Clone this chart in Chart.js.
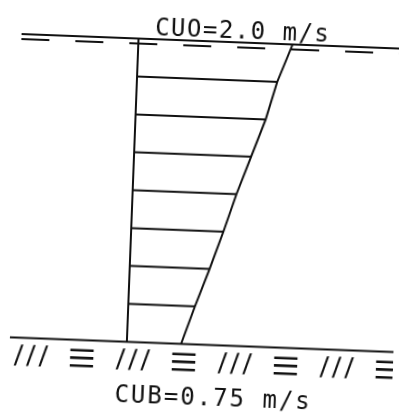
<!DOCTYPE html>
<html><head><meta charset="utf-8">
<script src="https://cdn.jsdelivr.net/npm/chart.js@4.4.0/dist/chart.umd.min.js"></script>
<style>
html,body{margin:0;padding:0;background:#fff;overflow:hidden}
#wrap{width:399px;height:419px;position:relative;overflow:hidden;background:#fff}
#c{position:absolute;left:0;top:0;transform:rotate(2.2deg);transform-origin:50% 50%}
</style></head><body>
<div id="wrap"><canvas id="c" width="399" height="419"></canvas></div>
<script>
// depth levels (0 = bed, 8 = surface) and velocity read at each level (m/s)
const levels = [0, 1, 2, 3, 4, 5, 6, 7, 8];
const velocities = [0.70, 0.86, 1.03, 1.19, 1.34, 1.51, 1.68, 1.81, 1.99];
const surfaceLabel = 'CUO=2.0 m/s';
const bedLabel = 'CUB=0.75 m/s';
const groundSymbols = ['///', '≡', '///', '≡', '///', '≡', '///', '≡'];

const INK = '#111';
const surfLevel = levels[levels.length - 1];
const bedLevel = levels[0];
const farLeft = -1.51, farRight = 3.7;

const datasets = [];
// velocity profile (slanted line)
datasets.push({ data: levels.map((l, i) => ({ x: velocities[i], y: l })), borderColor: INK, borderWidth: 2 });
// reference vertical
datasets.push({ data: [{ x: 0, y: bedLevel }, { x: 0, y: surfLevel }], borderColor: INK, borderWidth: 2 });
// velocity bars at interior levels
levels.forEach((l, i) => {
  if (l === bedLevel || l === surfLevel) return;
  datasets.push({ data: [{ x: 0, y: l }, { x: velocities[i], y: l }], borderColor: INK, borderWidth: 2 });
});
// water surface
datasets.push({ data: [{ x: farLeft, y: surfLevel }, { x: farRight, y: surfLevel }], borderColor: INK, borderWidth: 2 });
datasets.push({ data: [{ x: farLeft, y: surfLevel - 0.13 }, { x: farRight, y: surfLevel - 0.13 }], borderColor: INK, borderWidth: 2, borderDash: [28, 26] });
// bed
datasets.push({ data: [{ x: farLeft, y: bedLevel }, { x: farRight, y: bedLevel }], borderColor: INK, borderWidth: 2 });

datasets.forEach(d => { d.showLine = true; d.pointRadius = 0; d.fill = false; d.tension = 0; });

function drawFitted(ctx, s, cx, cy, font, w, h, shear) {
  ctx.save();
  ctx.font = font;
  ctx.textAlign = 'left';
  ctx.textBaseline = 'alphabetic';
  const m = ctx.measureText(s);
  const gw = m.actualBoundingBoxRight + m.actualBoundingBoxLeft;
  const gh = m.actualBoundingBoxAscent + m.actualBoundingBoxDescent;
  const sx = w / gw, sy = h / gh;
  ctx.translate(cx, cy);
  ctx.transform(1, 0, shear, 1, 0, 0);
  ctx.scale(sx, sy);
  ctx.fillText(s, -gw / 2 + m.actualBoundingBoxLeft, (m.actualBoundingBoxAscent - m.actualBoundingBoxDescent) / 2);
  ctx.restore();
}

const textPlugin = {
  id: 'labels',
  afterDraw(chart) {
    const ctx = chart.ctx;
    const xs = chart.scales.x, ys = chart.scales.y;
    ctx.save();
    ctx.fillStyle = INK;
    ctx.textAlign = 'center';
    ctx.textBaseline = 'alphabetic';
    ctx.font = '24px "DejaVu Sans Mono"';
    try { ctx.letterSpacing = '1.5px'; } catch (e) {}
    ctx.fillText(surfaceLabel, xs.getPixelForValue(1.34), ys.getPixelForValue(surfLevel) - 4);
    try { ctx.letterSpacing = '2px'; } catch (e) {}
    ctx.fillText(bedLabel, xs.getPixelForValue(1.14), ys.getPixelForValue(bedLevel) + 61);
    try { ctx.letterSpacing = '0px'; } catch (e) {}
    const yMid = ys.getPixelForValue(bedLevel) + 17.5;
    groundSymbols.forEach((s, k) => {
      const px = 37 + k * 51;
      if (s === '≡') {
        drawFitted(ctx, s, px, yMid, '200 24px Inter, "DejaVu Sans"', 25, 22, 0);
      } else {
        drawFitted(ctx, s, px, yMid, 'bold 22px "DejaVu Sans Mono"', 36, 21, 0.05);
      }
    });
    ctx.restore();
  }
};

new Chart(document.getElementById('c'), {
  type: 'scatter',
  data: { datasets },
  options: {
    responsive: false,
    animation: false,
    devicePixelRatio: 1,
    layout: { padding: 0 },
    plugins: { legend: { display: false }, tooltip: { enabled: false }, title: { display: false } },
    scales: {
      x: { type: 'linear', display: false, min: -1.7032, max: 3.4452 },
      y: { type: 'linear', display: false, min: -1.964, max: 9.081 }
    }
  },
  plugins: [textPlugin]
});
</script>
</body></html>
